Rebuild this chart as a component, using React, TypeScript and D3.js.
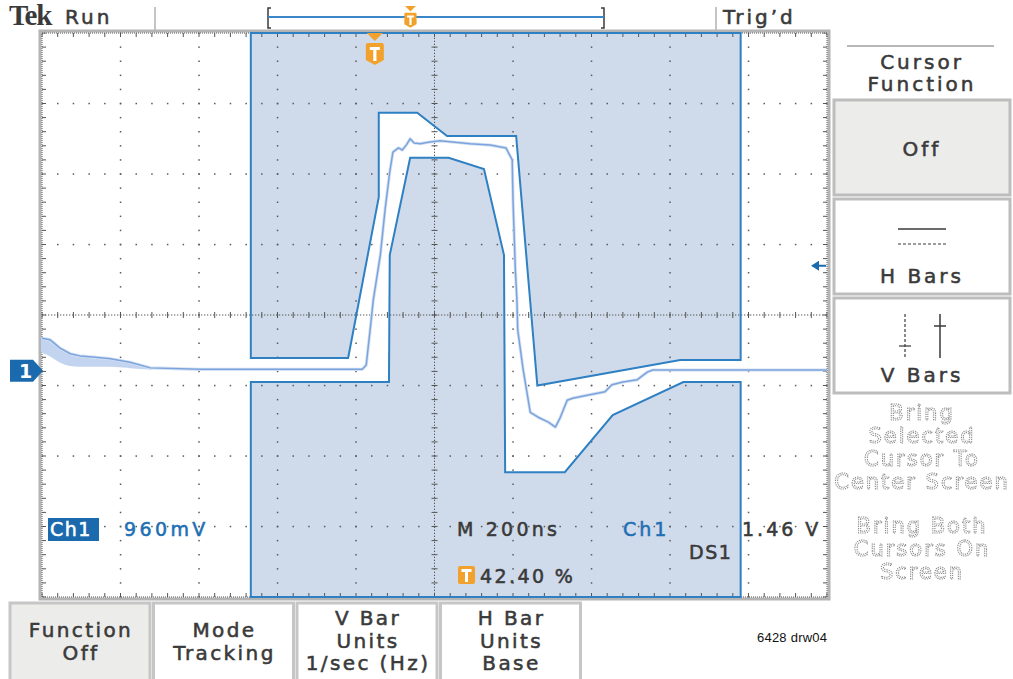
import React from 'react'
import * as d3 from 'd3'

// positions are in graticule divisions: x 0..10, y -4..4 (0 = centre line)
const waveform: [number, number][] = [
  [0, -0.33], [0.1, -0.35], [0.23, -0.47], [0.36, -0.55], [0.48, -0.58], [0.68, -0.6],
  [0.87, -0.62], [1.12, -0.67], [1.38, -0.75], [2.01, -0.77], [3.29, -0.77], [4.08, -0.77],
  [4.13, -0.71], [4.18, -0.21], [4.22, 0.21], [4.31, 0.85], [4.37, 1.49], [4.43, 2.03],
  [4.47, 2.31], [4.54, 2.37], [4.59, 2.34], [4.64, 2.41], [4.69, 2.5], [4.74, 2.44],
  [4.82, 2.43], [4.92, 2.45], [5.07, 2.47], [5.26, 2.45], [5.45, 2.43], [5.71, 2.41],
  [5.91, 2.37], [5.99, 2.2], [6.0, 1.63], [6.03, 0.64], [6.05, 0.21], [6.06, -0.21],
  [6.13, -0.78], [6.22, -1.38], [6.32, -1.45], [6.45, -1.52], [6.54, -1.59], [6.6, -1.46],
  [6.69, -1.21], [6.76, -1.18], [6.98, -1.13], [7.17, -1.09], [7.26, -0.99], [7.4, -0.95],
  [7.58, -0.92], [7.71, -0.81], [7.78, -0.78], [8.13, -0.78], [9.15, -0.78], [10, -0.78],
]

// lower edge of the noisy persistence band after the left edge (same x as first waveform points)
const bandLow = [-0.52, -0.57, -0.66, -0.71, -0.72, -0.72, -0.72, -0.74, -0.76]

const upperMask: [number, number][] = [
  [2.66, 4], [2.66, -0.61], [3.9, -0.61], [4.29, 1.67], [4.29, 2.87], [4.78, 2.87],
  [5.16, 2.54], [6.04, 2.54], [6.31, -1.0], [8.13, -0.64], [8.9, -0.64], [8.9, 4],
]

const lowerMask: [number, number][] = [
  [2.66, -4], [2.66, -0.95], [4.42, -0.95], [4.43, 0.85], [4.69, 2.23], [5.18, 2.23],
  [5.63, 2.07], [5.885, 0.85], [5.9, -2.23], [6.66, -2.23], [7.27, -1.42], [8.17, -0.95],
  [8.9, -0.95], [8.9, -4],
]

const triggerPct = 42.4
const ch1Ground = -0.79
const hBarLevel = 0.7

const sideTitle = ['Cursor', 'Function']
const sideOptions = ['Off', 'H Bars', 'V Bars']
const sideHelp = [['Bring', 'Selected', 'Cursor To', 'Center Screen'], ['Bring Both', 'Cursors On', 'Screen']]
const bottomButtons = [['Function', 'Off'], ['Mode', 'Tracking'], ['V Bar', 'Units', '1/sec (Hz)'], ['H Bar', 'Units', 'Base']]

const FONT = '"DejaVu Sans", sans-serif'
const DARK = '#3a3a3a'
const BLUE = '#1f6fb4'
const ORANGE = '#f2a22c'

const Shield: React.FC<{ x: number; y: number; s: number }> = ({ x, y, s }) => (
  <g transform={`translate(${x},${y}) scale(${s})`}>
    <path d="M-8,0 H8 L0,8 Z" fill={ORANGE} />
    <path d="M-9,12 Q-9,10 -7,10 H7 Q9,10 9,12 V27 L0,32 L-9,27 Z" fill={ORANGE} />
    <path d="M-5,14 H5 V17 H1.6 V28 H-1.6 V17 H-5 Z" fill="#fff" />
  </g>
)

export default function App() {
  const W = 1013, H = 679
  const x = d3.scaleLinear().domain([0, 10]).range([42, 827])
  const y = d3.scaleLinear().domain([-4, 4]).range([597, 33])
  const line = d3.line<[number, number]>().x(d => x(d[0])).y(d => y(d[1]))
  const band = d3.area<[number, number]>().x(d => x(d[0])).y0((d, i) => y(bandLow[i])).y1(d => y(d[1])).curve(d3.curveMonotoneX)

  const minorX = d3.range(0, 10.001, 0.2)
  const minorY = d3.range(-4, 4.001, 0.2)
  const majorX = d3.range(1, 10).filter(v => v !== 5)
  const majorY = d3.range(-3, 4).filter(v => v !== 0)

  const trigX = x(10 * triggerPct / 100)
  const recL = 268, recR = 604
  const recTrig = recL + (recR - recL) * triggerPct / 100

  const txt = (s: string, tx: number, ty: number, opts: any = {}) => {
    const fill = opts.fill || DARK
    return (
      <text x={tx} y={ty} fontFamily={FONT} fontSize={20} letterSpacing={3} fill={fill}
        stroke={fill} strokeWidth={0.55} {...opts}>{s}</text>
    )
  }

  return (
    <svg width={W} height={H} style={{ position: 'absolute', left: 0, top: 0, background: '#fff' }}>
      {/* top status bar */}
      <text x={9} y={25} fontFamily='"Liberation Serif", serif' fontWeight="bold" fontSize={29} fill={DARK} letterSpacing={-1.2}>Tek</text>
      {txt('Run', 65, 24)}
      <line x1={155} x2={155} y1={7} y2={31} stroke="#c4c4c4" strokeWidth={2} />
      <line x1={716} x2={716} y1={7} y2={31} stroke="#c4c4c4" strokeWidth={2} />
      {txt('Trig’d', 723, 24)}
      <path d={`M${recL + 3},8 H${recL} V28 H${recL + 3}`} fill="none" stroke={DARK} strokeWidth={1.5} />
      <path d={`M${recR - 3},8 H${recR} V28 H${recR - 3}`} fill="none" stroke={DARK} strokeWidth={1.5} />
      <line x1={recL} x2={recR} y1={17} y2={17} stroke="#3a86c8" strokeWidth={2} />
      <Shield x={recTrig} y={6} s={0.68} />

      {/* mask */}
      <path d={line(upperMask) + 'Z'} fill="#cfdbeb" />
      <path d={line(lowerMask) + 'Z'} fill="#cfdbeb" />

      {/* graticule dots */}
      <g fill="#5a5a5a">
        {majorX.map(i => minorY.map(j => (
          <rect key={`v${i}_${j}`} x={x(i) - 0.7} y={y(j) - 0.7} width={1.5} height={1.5} />
        )))}
        {majorY.map(j => minorX.map(i => (
          <rect key={`h${j}_${i}`} x={x(i) - 0.7} y={y(j) - 0.7} width={1.5} height={1.5} />
        )))}
      </g>
      <g stroke="#555" strokeWidth={1}>
        <line x1={x(0)} x2={x(10)} y1={y(0)} y2={y(0)} strokeDasharray="1.3 1.7" />
        <line x1={x(5)} x2={x(5)} y1={y(-4)} y2={y(4)} strokeDasharray="1.3 1.7" />
        {minorX.map(i => <line key={`ch${i}`} x1={x(i)} x2={x(i)} y1={y(0) - 3} y2={y(0) + 3} />)}
        {minorY.map(j => <line key={`cv${j}`} x1={x(5) - 3} x2={x(5) + 3} y1={y(j)} y2={y(j)} />)}
        {minorX.map(i => <line key={`tt${i}`} x1={x(i)} x2={x(i)} y1={y(4)} y2={y(4) + 4} />)}
        {minorX.map(i => <line key={`tb${i}`} x1={x(i)} x2={x(i)} y1={y(-4)} y2={y(-4) - 4} />)}
        {minorY.map(j => <line key={`tl${j}`} x1={x(0)} x2={x(0) + 4} y1={y(j)} y2={y(j)} />)}
        {minorY.map(j => <line key={`tr${j}`} x1={x(10)} x2={x(10) - 4} y1={y(j)} y2={y(j)} />)}
      </g>
      <rect x={x(0) - 2} y={y(4) - 2} width={x(10) - x(0) + 4} height={y(-4) - y(4) + 4} fill="none" stroke="#b4b4b4" strokeWidth={3} />
      <rect x={x(0)} y={y(4)} width={x(10) - x(0)} height={y(-4) - y(4)} fill="none" stroke="#555" strokeWidth={1} strokeDasharray="1 1" />

      {/* mask outline */}
      <path d={line(upperMask) + 'Z'} fill="none" stroke="#2f80c3" strokeWidth={2} />
      <path d={line(lowerMask) + 'Z'} fill="none" stroke="#2f80c3" strokeWidth={2} />

      {/* waveform */}
      <path d={band(waveform.slice(0, bandLow.length))!} fill="#c2d4ef" stroke="#c2d4ef" strokeWidth={2} />
      <path d={line(waveform)!} fill="none" stroke="#d4e0f3" strokeWidth={3.2} strokeLinejoin="round" />
      <path d={line(waveform)!} fill="none" stroke="#7ba4dc" strokeWidth={1.5} strokeLinejoin="round" />

      {/* trigger position marker */}
      <Shield x={trigX} y={y(4)} s={1} />

      {/* channel 1 ground marker */}
      <g transform={`translate(0,${y(ch1Ground)})`}>
        <path d="M10,-11 H33 L43,0 L33,11 H10 Z" fill="#1b6aae" />
        <text x={19} y={7} fontFamily={FONT} fontWeight="bold" fontSize={19} fill="#fff">1</text>
      </g>
      {/* h bar reference arrow */}
      <path d={`M811,${y(hBarLevel)} L819,${y(hBarLevel) - 5} V${y(hBarLevel) - 1} H826 V${y(hBarLevel) + 1} H819 V${y(hBarLevel) + 5} Z`} fill="#1b6aae" />

      {/* readouts */}
      <rect x={48} y={518} width={51} height={23} fill="#1b6aae" />
      {txt('Ch1', 50, 536, { fill: '#fff', letterSpacing: 1.5, fontSize: 19 })}
      {txt('960mV', 124, 536, { fill: BLUE, fontSize: 19, letterSpacing: 3.4 })}
      {txt('M 200ns', 457, 536, { fontSize: 19, letterSpacing: 3.2 })}
      {txt('Ch1', 623, 536, { fill: BLUE, fontSize: 19, letterSpacing: 3 })}
      {txt('1.46 V', 742, 536, { fontSize: 19, letterSpacing: 3 })}
      {txt('DS1', 689, 559, { letterSpacing: 1.5, fontSize: 19 })}
      <rect x={458} y={566} width={17} height={18} rx={2} fill={ORANGE} />
      <path d="M461.5,569 H471.5 V572 H468 V582 H465 V572 H461.5 Z" fill="#fff" />
      {txt('42.40 %', 480, 583, { letterSpacing: 2.4, fontSize: 19 })}

      {/* side menu */}
      <line x1={847} x2={994} y1={46} y2={46} stroke="#b8b8b8" strokeWidth={2} />
      {sideTitle.map((s, i) => txt(s, 922, 69 + i * 22, { textAnchor: 'middle', key: s }))}
      {sideOptions.map((s, i) => {
        const top = 100 + i * 99
        return (
          <g key={s}>
            <rect x={834} y={top} width={176} height={95} fill={i === 0 ? '#ececea' : '#fff'} stroke="#bdbdbd" strokeWidth={3} />
            {txt(s, 922, i === 0 ? top + 56 : top + 84, { textAnchor: 'middle' })}
          </g>
        )
      })}
      <line x1={898} x2={946} y1={229} y2={229} stroke={DARK} strokeWidth={1.5} />
      <line x1={898} x2={946} y1={244} y2={244} stroke={DARK} strokeWidth={1.2} strokeDasharray="3 2" />
      <line x1={905} x2={905} y1={314} y2={358} stroke={DARK} strokeWidth={1.2} strokeDasharray="3 2" />
      <line x1={899} x2={911} y1={346} y2={346} stroke={DARK} strokeWidth={1.2} />
      <line x1={940} x2={940} y1={314} y2={358} stroke={DARK} strokeWidth={1.5} />
      <line x1={934} x2={946} y1={326} y2={326} stroke={DARK} strokeWidth={1.5} />
      <g transform="rotate(0.01 922 500)" style={{ willChange: 'transform' }}>
        {sideHelp.map((block, b) => block.map((s, i) => (
          <text key={`${b}${i}`} x={922} y={(b === 0 ? 420 : 533) + i * 23} textAnchor="middle" fontFamily={FONT} fontSize={21}
            letterSpacing={2} fill="#fff" stroke="#8c8c8c" strokeWidth={1.1} strokeDasharray="1.2 1">{s}</text>
        )))}
      </g>

      {/* bottom buttons */}
      {bottomButtons.map((lines, i) => {
        const x0 = 10 + i * 143.5
        const cx = x0 + 71
        const y0 = lines.length === 2 ? 637 : 625
        return (
          <g key={i}>
            <rect x={x0} y={603} width={140} height={78} fill={i === 0 ? '#ececea' : '#fff'} stroke="#c6c6c6" strokeWidth={3} />
            {lines.map((s, k) => txt(s, cx, y0 + k * 22.5, { textAnchor: 'middle', letterSpacing: 2.4, key: s + k }))}
          </g>
        )
      })}
      <text x={757} y={642} fontFamily='"Liberation Sans Narrow", "Liberation Sans", sans-serif' fontSize={13} fill="#111" textLength={70}>6428 drw04</text>
    </svg>
  )
}
